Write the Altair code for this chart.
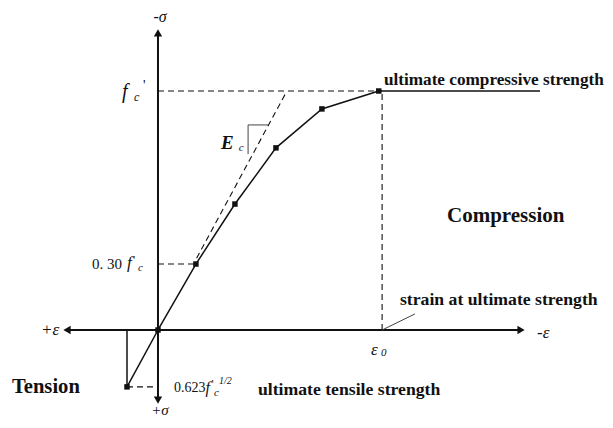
import altair as alt
import pandas as pd

# normalised strain (eps / eps0, compression positive to the right)
# normalised stress (sigma / fc', compression positive upward)
curve_strain = [0.0, 0.17, 0.345, 0.529, 0.735, 0.99]
curve_stress = [0.0, 0.276, 0.527, 0.762, 0.925, 1.0]
plateau_strain = [0.99, 1.713]
plateau_stress = [1.0, 1.0]
tension_strain = [0.0, -0.139]
tension_stress = [0.0, -0.238]
tangent_strain = [0.173, 0.578]
tangent_stress = [0.30, 1.0]
eps0 = 1.005
fc_level = 1.0
fc30_level = 0.276
ft_level = -0.238
ft_strain = -0.139
axis_x_range = [-0.40, 1.62]
axis_y_range = [-0.29, 1.24]

# segments: x, x2, y, y2, kind
seg_x = [axis_x_range[0], 0.0, 0.0, 0.0, ft_strain, ft_strain, eps0, 0.404, 0.404, eps0]
seg_x2 = [axis_x_range[1], 0.0, eps0, 0.17, 0.0, ft_strain, eps0, 0.404, 0.493, 1.152]
seg_y = [0.0, axis_y_range[0], fc_level, fc30_level, ft_level, ft_level, 0.0, 0.736, 0.858, 0.0]
seg_y2 = [0.0, axis_y_range[1], fc_level, fc30_level, ft_level, 0.0, fc_level, 0.858, 0.858, 0.067]
seg_kind = ["axis", "axis", "dash", "dash", "dash", "solid", "dash", "thin", "thin", "thin"]

# arrow heads
arrow_x = [axis_x_range[0] - 0.008, 1.628, 0.0, 0.0]
arrow_y = [0.0, 0.0, 1.243, -0.293]
arrow_shape = ["triangle-left", "triangle-right", "triangle-up", "triangle-down"]

# text pieces
bold_labels = ["ultimate compressive strength", "strain at ultimate strength",
               "ultimate tensile strength", "Compression", "Tension"]
bold_x = [1.013, 1.085, 0.448, 1.296, -0.655]
bold_y = [1.046, 0.126, -0.251, 0.477, -0.238]
bold_size = [17.2, 17.7, 17.7, 21, 20.6]

ital_labels = ["f", "c", "f", "c", "f", "c", "1/2", "ε", "0", "+ε", "-ε", "c"]
ital_x = [-0.161, -0.108, -0.139, -0.090, 0.213, 0.251, 0.274, 0.955, 1.0, -0.525, 1.70, 0.362]
ital_y = [0.996, 0.975, 0.280, 0.259, -0.243, -0.264, -0.213, -0.084, -0.096, 0.0, -0.013, 0.762]
ital_size = [20, 12, 17, 11, 16, 11, 10, 17, 11, 17, 17, 11]

sig_labels = ["-σ", "+σ"]
sig_x = [0.009, 0.009]
sig_y = [1.31, -0.335]
sig_size = [16, 15]

norm_labels = ["'", "0. 30", "'", "0.623", "'"]
norm_x = [-0.067, -0.296, -0.112, 0.072, 0.240]
norm_y = [1.021, 0.276, 0.293, -0.243, -0.226]
norm_size = [14, 15, 12, 14, 12]

bi_labels = ["E"]
bi_x = [0.283]
bi_y = [0.782]

INK = "#111111"
FONT = "Liberation Serif"
X = alt.X("x:Q", scale=alt.Scale(domain=[-0.6726, 2.0045]), axis=None)
Y = alt.Y("y:Q", scale=alt.Scale(domain=[-0.3766, 1.3473]), axis=None)

seg = pd.DataFrame({"x": seg_x, "x2": seg_x2, "y": seg_y, "y2": seg_y2, "kind": seg_kind})

def rules(kind, color=INK, **kw):
    return alt.Chart(seg[seg.kind == kind]).mark_rule(color=color, **kw).encode(
        x=X, y=Y, x2="x2:Q", y2="y2:Q")

layers = [
    rules("axis", strokeWidth=2),
    rules("solid", strokeWidth=1.5),
    rules("dash", strokeWidth=1.1, strokeDash=[6, 4]),
    rules("thin", color="#444444", strokeWidth=1),
]

tangent = pd.DataFrame({"x": tangent_strain, "y": tangent_stress})
layers.append(alt.Chart(tangent).mark_line(color=INK, strokeWidth=1.1, strokeDash=[6, 4]).encode(x=X, y=Y))

curve = pd.DataFrame({"x": curve_strain, "y": curve_stress, "o": list(range(len(curve_strain)))})
layers.append(alt.Chart(curve).mark_line(color=INK, strokeWidth=1.5).encode(x=X, y=Y, order="o:Q"))
plat = pd.DataFrame({"x": plateau_strain, "y": plateau_stress})
layers.append(alt.Chart(plat).mark_line(color=INK, strokeWidth=1.5).encode(x=X, y=Y))
ten = pd.DataFrame({"x": tension_strain, "y": tension_stress})
layers.append(alt.Chart(ten).mark_line(color=INK, strokeWidth=1.5).encode(x=X, y=Y))

pts = pd.DataFrame({"x": curve_strain + tension_strain[1:], "y": curve_stress + tension_stress[1:]})
layers.append(alt.Chart(pts).mark_point(shape="square", filled=True, size=30, color=INK, opacity=1).encode(x=X, y=Y))

arr = pd.DataFrame({"x": arrow_x, "y": arrow_y, "s": arrow_shape})
layers.append(alt.Chart(arr).mark_point(filled=True, size=70, color=INK, opacity=1).encode(
    x=X, y=Y, shape=alt.Shape("s:N", scale=None)))

def texts(labels, xs, ys, sizes, align="left", **kw):
    df = pd.DataFrame({"t": labels, "x": xs, "y": ys, "fs": sizes})
    return alt.Chart(df).mark_text(align=align, baseline="middle", font=FONT, color=INK, **kw).encode(
        x=X, y=Y, text="t:N", size=alt.Size("fs:Q", scale=None))

layers.append(texts(bold_labels, bold_x, bold_y, bold_size, fontWeight="bold"))
layers.append(texts(ital_labels, ital_x, ital_y, ital_size, fontStyle="italic"))
layers.append(texts(sig_labels, sig_x, sig_y, sig_size, align="center", fontStyle="italic"))
layers.append(texts(norm_labels, norm_x, norm_y, norm_size))
layers.append(texts(bi_labels, bi_x, bi_y, [19], fontStyle="italic", fontWeight="bold"))

chart = alt.layer(*layers).properties(
    width=597, height=412, padding=0, autosize=alt.AutoSizeParams(type="none"),
    background="white",
).configure_view(stroke=None)

chart.save("out.html", embed_options={"renderer": "svg", "actions": False})
